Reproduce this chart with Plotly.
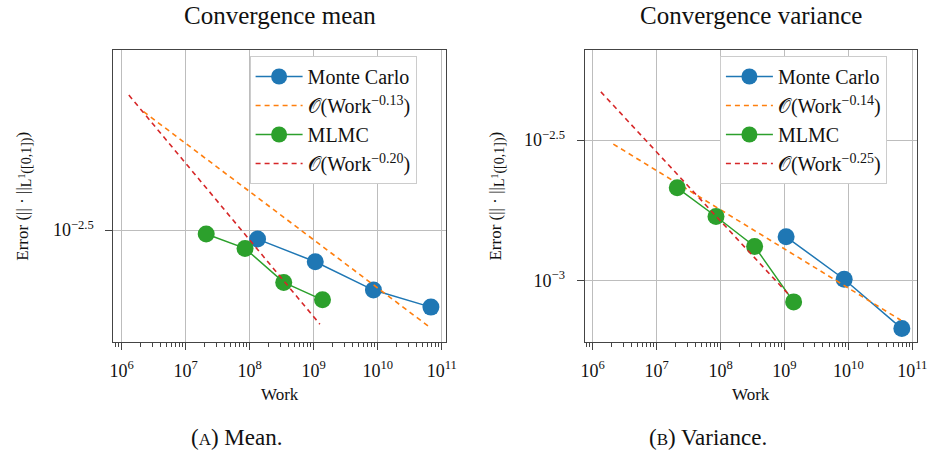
import plotly.graph_objects as go

# ---------------- data ----------------
# Mean panel
mc_work_mean = [1.33e8, 1.06e9, 8.58e9, 6.78e10]
mc_err_mean = [2.993e-3, 2.607e-3, 2.194e-3, 1.978e-3]
mlmc_work_mean = [2.10e7, 8.48e7, 3.41e8, 1.375e9]
mlmc_err_mean = [3.087e-3, 2.828e-3, 2.299e-3, 2.068e-3]
ref_mc_work_mean = [2.21e6, 6.38e10]
ref_mc_err_mean = [6.50e-3, 1.754e-3]
ref_mlmc_work_mean = [1.30e6, 1.25e9]
ref_mlmc_err_mean = [7.19e-3, 1.783e-3]

# Variance panel
mc_work_var = [1.06e9, 8.58e9, 6.85e10]
mc_err_var = [1.429e-3, 1.008e-3, 6.72e-4]
mlmc_work_var = [2.10e7, 8.48e7, 3.41e8, 1.39e9]
mlmc_err_var = [2.137e-3, 1.688e-3, 1.319e-3, 8.37e-4]
ref_mc_work_var = [2.10e6, 6.61e10]
ref_mc_err_var = [3.06e-3, 7.20e-4]
ref_mlmc_work_var = [1.34e6, 1.19e9]
ref_mlmc_err_var = [4.70e-3, 8.84e-4]

labels_mean = ["Monte Carlo", "𝒪(Work<sup>−0.13</sup>)", "MLMC", "𝒪(Work<sup>−0.20</sup>)"]
labels_var = ["Monte Carlo", "𝒪(Work<sup>−0.14</sup>)", "MLMC", "𝒪(Work<sup>−0.25</sup>)"]
titles = ["Convergence mean", "Convergence variance"]
captions = ["(<span style='font-size:17px'>A</span>) Mean.", "(<span style='font-size:17px'>B</span>) Variance."]
xtick_vals = [1e6, 1e7, 1e8, 1e9, 1e10, 1e11]
xtick_text = ["10<sup>6</sup>", "10<sup>7</sup>", "10<sup>8</sup>", "10<sup>9</sup>",
              "10<sup>10</sup>", "10<sup>11</sup>"]
ytick_mean = [10 ** -2.5]
ytick_mean_text = ["10<sup>−2.5</sup>"]
ytick_var = [10 ** -3, 10 ** -2.5]
ytick_var_text = ["10<sup>−3</sup>", "10<sup>−2.5</sup>"]

BLUE, ORANGE, GREEN, RED = "#1f77b4", "#ff7f0e", "#2ca02c", "#d62728"
FONT = "Liberation Serif"

W, H = 943, 455


def px(xp):
    return xp / W


def py(yp):
    return 1 - yp / H


fig = go.Figure()


def add_panel(xa, ya, leg, mcw, mce, rmw, rme, mlw, mle, rlw, rle, labels):
    fig.add_trace(go.Scatter(x=mcw, y=mce, mode="lines+markers", name=labels[0],
                             line=dict(color=BLUE, width=1.5), marker=dict(size=17, color=BLUE),
                             xaxis=xa, yaxis=ya, legend=leg, legendgroup=leg + "a"))
    fig.add_trace(go.Scatter(x=rmw, y=rme, mode="lines", name=labels[1],
                             line=dict(color=ORANGE, width=1.6, dash="5px,4px"),
                             xaxis=xa, yaxis=ya, legend=leg, legendgroup=leg + "b"))
    fig.add_trace(go.Scatter(x=mlw, y=mle, mode="lines+markers", name=labels[2],
                             line=dict(color=GREEN, width=1.5), marker=dict(size=17, color=GREEN),
                             xaxis=xa, yaxis=ya, legend=leg, legendgroup=leg + "c"))
    fig.add_trace(go.Scatter(x=rlw, y=rle, mode="lines", name=labels[3],
                             line=dict(color=RED, width=1.6, dash="5px,4px"),
                             xaxis=xa, yaxis=ya, legend=leg, legendgroup=leg + "d"))


add_panel("x", "y", "legend", mc_work_mean, mc_err_mean, ref_mc_work_mean, ref_mc_err_mean,
          mlmc_work_mean, mlmc_err_mean, ref_mlmc_work_mean, ref_mlmc_err_mean, labels_mean)
add_panel("x2", "y2", "legend2", mc_work_var, mc_err_var, ref_mc_work_var, ref_mc_err_var,
          mlmc_work_var, mlmc_err_var, ref_mlmc_work_var, ref_mlmc_err_var, labels_var)

GRID = "#bdbdbd"
FRAME = "#444444"


def xaxis(dom, anchor):
    return dict(type="log", domain=dom, anchor=anchor, range=[5.872, 11.072],
                tickmode="array", tickvals=xtick_vals, ticktext=xtick_text,
                showgrid=True, gridcolor=GRID, gridwidth=1,
                showline=True, linecolor=FRAME, linewidth=1, mirror=True,
                ticks="outside", ticklen=7, tickcolor=FRAME, ticklabelstandoff=5,
                minor=dict(dtick="D1", ticks="outside", ticklen=4, tickcolor=FRAME, showgrid=False),
                tickfont=dict(family=FONT, size=18, color="#111"), zeroline=False)


def yaxis(dom, anchor, rng, tv, tt):
    return dict(type="log", domain=dom, anchor=anchor, range=rng,
                tickmode="array", tickvals=tv, ticktext=tt,
                showgrid=True, gridcolor=GRID, gridwidth=1,
                showline=True, linecolor=FRAME, linewidth=1, mirror=True,
                ticks="outside", ticklen=7, tickcolor=FRAME, ticklabelstandoff=8,
                tickfont=dict(family=FONT, size=18, color="#111"), zeroline=False)


ydom = [py(342), py(50)]
legend_style = dict(yanchor="top", xanchor="left", bordercolor="#cccccc", borderwidth=1,
                    bgcolor="white", font=dict(family=FONT, size=20, color="#111"),
                    tracegroupgap=0, itemwidth=47)
fig.update_layout(
    width=W, height=H, margin=dict(l=0, r=0, t=0, b=0),
    paper_bgcolor="white", plot_bgcolor="white",
    font=dict(family=FONT, color="#111"),
    xaxis=xaxis([px(111), px(449)], "y"),
    yaxis=yaxis(ydom, "x", [-2.796, -2.024], ytick_mean, ytick_mean_text),
    xaxis2=xaxis([px(589.3), px(926.7)], "y2"),
    yaxis2=yaxis(ydom, "x2", [-3.2204, -2.1786], ytick_var, ytick_var_text),
    legend=dict(x=px(249.3), y=py(56), **legend_style),
    legend2=dict(x=px(726.7), y=py(56), **legend_style),
    showlegend=True,
)

centers = [280, 758]
cap_centers = [236, 715]
ylab_x = [20, 500]
for i in range(2):
    fig.add_annotation(text=titles[i], x=px(centers[i]), y=py(16), xref="paper", yref="paper",
                       xanchor="center", yanchor="middle",
                       showarrow=False, font=dict(family=FONT, size=25, color="#111"))
    fig.add_annotation(text="Work", x=px(centers[i]), y=py(394), xref="paper", yref="paper",
                       xanchor="center", yanchor="middle",
                       showarrow=False, font=dict(family=FONT, size=17, color="#111"))
    fig.add_annotation(text="Error (|| · ||<sub><span style='font-size:14px'>L<sup>1</sup>([0,1])</span></sub>)",
                       x=px(ylab_x[i]), y=py(196),
                       xref="paper", yref="paper", showarrow=False, textangle=-90,
                       xanchor="center", yanchor="middle",
                       font=dict(family=FONT, size=17, color="#111"))
    fig.add_annotation(text=captions[i], x=px(cap_centers[i]), y=py(437), xref="paper", yref="paper",
                       xanchor="center", yanchor="middle",
                       showarrow=False, font=dict(family=FONT, size=23, color="#111"))

fig.write_html("out.html", config={"displayModeBar": False},
               post_script="document.body.style.margin='0px';")
